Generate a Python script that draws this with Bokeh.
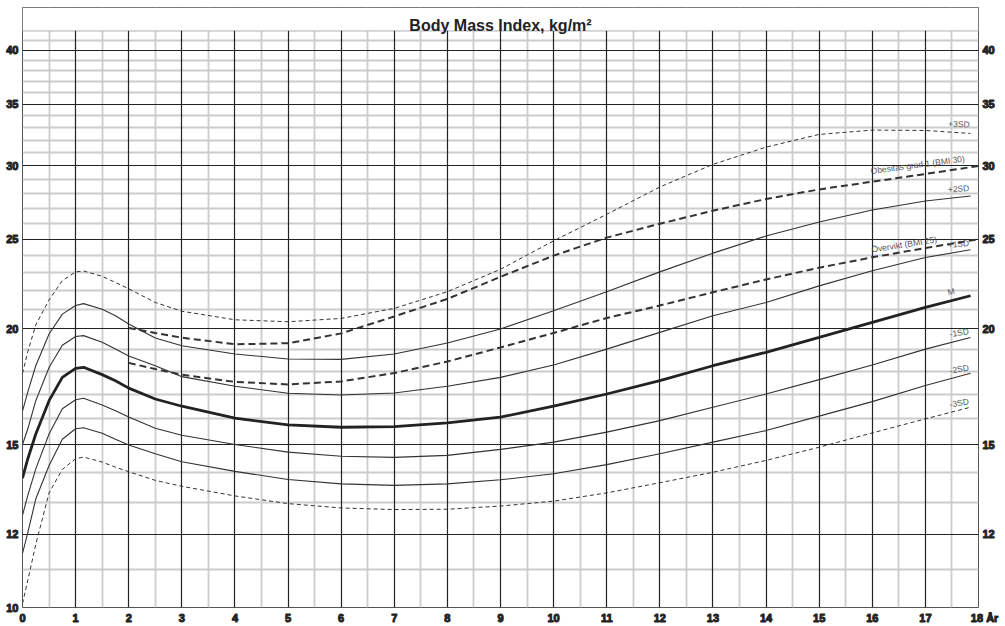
from bokeh.plotting import figure
from bokeh.models import (Range1d, FixedTicker, LogAxis, BoxAnnotation, Label,
                          NumeralTickFormatter, Grid)
from bokeh.embed import file_html
from bokeh.resources import INLINE

# ---- data ----
ages_sd = [0, 0.1, 0.25, 0.5, 0.75, 1.0, 1.15, 1.5, 1.75, 2, 2.5, 3, 4, 5, 6, 7, 8,
           9, 10, 11, 12, 13, 14, 15, 16, 17, 17.85]
sd_p3 = [17.9, 18.9, 20.2, 21.5, 22.55, 23.05, 23.1, 22.8, 22.45, 22.1, 21.36, 20.9,
         20.46, 20.36, 20.53, 21.05, 21.94, 23.2, 24.9, 26.6, 28.47, 30.12, 31.44,
         32.45, 32.8, 32.77, 32.53]
sd_p2 = [16.3, 17.1, 18.25, 19.75, 20.75, 21.2, 21.3, 21.0, 20.67, 20.25, 19.55, 19.18,
         18.79, 18.56, 18.54, 18.79, 19.31, 20.0, 20.92, 21.94, 23.05, 24.15, 25.2,
         26.1, 26.89, 27.5, 27.84]
sd_p1 = [15.0, 15.6, 16.73, 18.17, 19.2, 19.63, 19.67, 19.35, 19.03, 18.7, 18.25, 17.76,
         17.34, 17.04, 16.97, 17.05, 17.34, 17.73, 18.28, 19.02, 19.83, 20.67, 21.36,
         22.26, 23.11, 23.89, 24.35]
median = [13.8, 14.48, 15.4, 16.73, 17.73, 18.13, 18.18, 17.85, 17.58, 17.26, 16.8, 16.5,
          16.02, 15.75, 15.66, 15.68, 15.83, 16.06, 16.5, 17.01, 17.59, 18.25, 18.87,
          19.58, 20.33, 21.1, 21.72]
sd_m1 = [12.58, 13.22, 14.12, 15.4, 16.4, 16.77, 16.83, 16.55, 16.32, 16.06, 15.62, 15.35,
         15.0, 14.72, 14.57, 14.53, 14.6, 14.82, 15.09, 15.47, 15.92, 16.46, 17.01,
         17.63, 18.28, 19.02, 19.58]
sd_m2 = [11.44, 12.05, 13.1, 14.24, 15.2, 15.6, 15.64, 15.43, 15.2, 14.98, 14.66, 14.37,
         14.03, 13.75, 13.6, 13.55, 13.6, 13.74, 13.95, 14.27, 14.66, 15.09, 15.53,
         16.1, 16.69, 17.37, 17.91]
sd_m3 = [10.1, 10.7, 11.7, 13.3, 14.1, 14.48, 14.54, 14.36, 14.18, 14.02, 13.72, 13.52,
         13.2, 12.95, 12.81, 12.76, 12.77, 12.87, 13.03, 13.3, 13.64, 14.0, 14.42,
         14.9, 15.44, 15.99, 16.46]

ages_iotf = [2, 2.5, 3, 4, 5, 6, 7, 8, 9, 10, 11, 12, 13, 14, 15, 16, 17, 18]
overvikt = [18.38, 18.1, 17.85, 17.53, 17.42, 17.55, 17.92, 18.44, 19.1, 19.8, 20.55,
            21.2, 21.91, 22.62, 23.29, 23.9, 24.46, 25.0]
obesitas = [20.05, 19.8, 19.57, 19.25, 19.3, 19.78, 20.63, 21.55, 22.77, 24.0, 25.1,
            25.98, 26.84, 27.63, 28.3, 28.85, 29.41, 30.0]

x_ticks = list(range(0, 19))
x_minor = [i + 0.5 for i in range(18)]
y_ticks_left = [10, 12, 15, 20, 25, 30, 35, 40]
y_ticks_right = [12, 15, 20, 25, 30, 35, 40]
y_minor = [v for v in range(11, 43) if v not in y_ticks_left]

title_text = "Body Mass Index, kg/m²"
x_unit = "År"

FONT = "Liberation Sans"

p = figure(width=1005, height=626, x_range=Range1d(0, 18), y_range=Range1d(10, 44.5),
           y_axis_type="log", output_backend="svg", toolbar_location=None,
           min_border_left=22, min_border_right=27, min_border_top=7,
           min_border_bottom=17)
p.outline_line_color = "#555555"
p.outline_line_width = 1
p.background_fill_color = "white"
p.border_fill_color = "white"

p.xgrid.ticker = FixedTicker(ticks=x_minor)
p.ygrid.ticker = FixedTicker(ticks=y_minor)
for g in (p.xgrid, p.ygrid):
    g.grid_line_color = "#cccccc"
    g.grid_line_width = 1.8
p.add_layout(Grid(dimension=0, ticker=FixedTicker(ticks=x_ticks),
                  grid_line_color="#222222", grid_line_width=1.2))
p.add_layout(Grid(dimension=1, ticker=FixedTicker(ticks=y_ticks_left),
                  grid_line_color="#222222", grid_line_width=1.2))

p.xaxis.ticker = FixedTicker(ticks=x_ticks)
# last age tick carries the unit; non-breaking spaces keep "18" centred on its line
p.xaxis.major_label_overrides = {x_ticks[-1]: "\u00a0\u00a0\u00a0\u00a0%d %s" % (x_ticks[-1], x_unit)}
p.yaxis.ticker = FixedTicker(ticks=y_ticks_left)
p.yaxis.formatter = NumeralTickFormatter(format="0")

right_axis = LogAxis(ticker=FixedTicker(ticks=y_ticks_right),
                     formatter=NumeralTickFormatter(format="0"))
p.add_layout(right_axis, "right")

for ax in p.axis:
    ax.axis_line_color = None
    ax.major_tick_line_color = None
    ax.minor_tick_line_color = None
    ax.major_tick_out = 0
    ax.major_tick_in = 0
    ax.minor_tick_out = 0
    ax.minor_tick_in = 0
    ax.major_label_text_font = FONT
    ax.major_label_text_font_style = "bold"
    ax.major_label_text_font_size = "11px"
    ax.major_label_text_color = "#222222"
    ax.major_label_text_outline_color = "#222222"
    ax.major_label_standoff = 4

LC = "#333333"
p.line(ages_sd, sd_p3, line_color=LC, line_width=1, line_dash="4 3")
p.line(ages_sd, sd_p2, line_color=LC, line_width=1.1)
p.line(ages_sd, sd_p1, line_color=LC, line_width=1.1)
p.line(ages_sd, median, line_color="#222222", line_width=2.8)
p.line(ages_sd, sd_m1, line_color=LC, line_width=1.1)
p.line(ages_sd, sd_m2, line_color=LC, line_width=1.1)
p.line(ages_sd, sd_m3, line_color=LC, line_width=1, line_dash="4 3")
p.line(ages_iotf, overvikt, line_color=LC, line_width=2, line_dash="7 4")
p.line(ages_iotf, obesitas, line_color=LC, line_width=2, line_dash="7 4")

def curve_label(x, y, text, xo, yo, ang):
    p.add_layout(Label(x=x, y=y, text=text, x_offset=xo, y_offset=yo, angle=ang,
                       angle_units="deg", text_align="right", text_baseline="bottom",
                       text_font=FONT, text_font_size="8.5px", text_color="#555555"))

curve_label(ages_sd[-1], sd_p3[-1], "+3SD", -1, 4, -2)
curve_label(ages_sd[-1], sd_p2[-1], "+2SD", -1, 3, 4)
curve_label(ages_sd[-1], sd_p1[-1], "+1SD", -1, 2, 6)
curve_label(ages_sd[-1], median[-1], "M", -15, 0, 12)
curve_label(ages_sd[-1], sd_m1[-1], "-1SD", -1, 1.5, 10)
curve_label(ages_sd[-1], sd_m2[-1], "-2SD", -1, 1, 10)
curve_label(ages_sd[-1], sd_m3[-1], "-3SD", -1, 1, 10)
curve_label(ages_iotf[-1], obesitas[-1], "Obesitas grad 1 (BMI 30)", -13, 2.5, 7.5)
curve_label(ages_iotf[-1], overvikt[-1], "Övervikt (BMI 25)", -41, -5, 9)

p.add_layout(BoxAnnotation(left=0, right=18, bottom=42, top=44.5, fill_color="white",
                           fill_alpha=1, line_color="#666666", line_width=1))
p.add_layout(Label(x=9, y=42, y_offset=5, text=title_text, text_align="center",
                   text_baseline="alphabetic", text_font=FONT, text_font_style="bold",
                   text_font_size="16px", text_color="#222222"))

open("out.html", "w").write(file_html(p, INLINE, "BMI"))
